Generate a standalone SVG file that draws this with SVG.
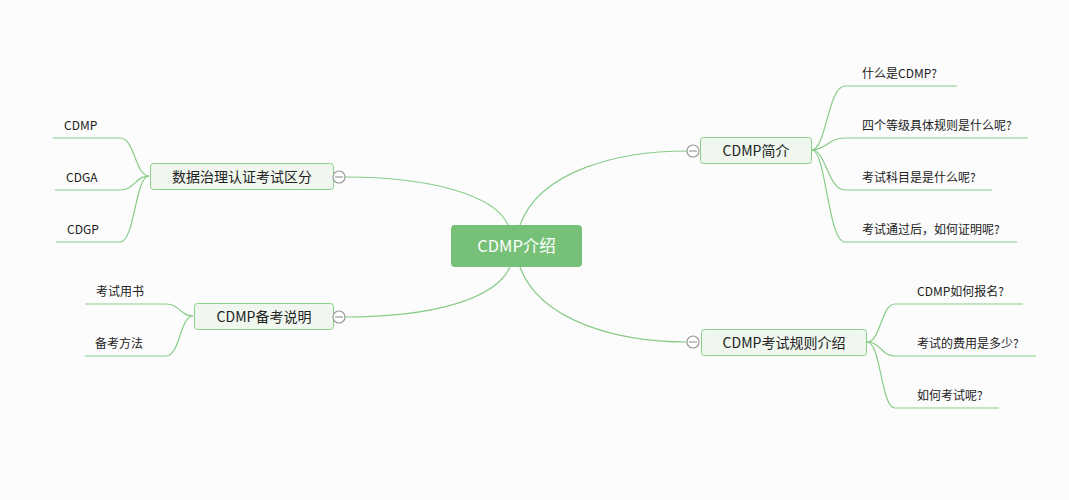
<svg xmlns="http://www.w3.org/2000/svg" width="1069" height="500" viewBox="0 0 1069 500">
<style>
.bg{fill:#fcfcfc}
.ln{fill:none;stroke:#88cc88;stroke-width:1.2}
.main{fill:#76c078}
.main-t{font-family:"Noto Sans CJK SC","Liberation Sans",sans-serif;font-size:16.5px;fill:#ffffff;text-anchor:middle}
.sub{fill:#f0f7ee;stroke:#8ccf8c;stroke-width:1}
.sub-t{font-family:"Noto Sans CJK SC","Liberation Sans",sans-serif;font-size:14px;fill:#222222;text-anchor:middle}
.leaf-t{font-family:"Noto Sans CJK SC","Liberation Sans",sans-serif;font-size:12px;fill:#222222}
.tog{fill:#ffffff;stroke:#9a9a9a;stroke-width:1.2}
.togm{stroke:#9a9a9a;stroke-width:1.2}
</style>
<rect class="bg" x="0" y="0" width="1069" height="500"/>
<g id="connectors">
<path class="ln" d="M508,225 C495,195 430,177 345,177"/>
<path class="ln" d="M520,225 C540,170 620,151 687,151"/>
<path class="ln" d="M510,267 C495,300 430,317 345,317"/>
<path class="ln" d="M520,267 C540,322 620,342 687,342"/>
<path class="ln" d="M812,150 C826,150 828,86 845,86 L957,86"/>
<path class="ln" d="M812,150 C826,150 828,138 845,138 L1028,138"/>
<path class="ln" d="M812,150 C826,150 828,190 845,190 L992,190"/>
<path class="ln" d="M812,150 C826,150 828,242 845,242 L1017,242"/>
<path class="ln" d="M149,176 C135,176 135,138 120,138 L53,138"/>
<path class="ln" d="M149,176 C135,176 135,190 120,190 L55,190"/>
<path class="ln" d="M149,176 C135,176 135,242 120,242 L56,242"/>
<path class="ln" d="M193,316 C180,316 180,304 166,304 L85,304"/>
<path class="ln" d="M193,316 C180,316 180,356 166,356 L85,356"/>
<path class="ln" d="M867,342 C881,342 881,304 895,304 L1023,304"/>
<path class="ln" d="M867,342 C881,342 881,356 895,356 L1036,356"/>
<path class="ln" d="M867,342 C881,342 881,408 895,408 L999,408"/>
</g>
<g id="root">
<rect class="main" x="451" y="225" width="131" height="42" rx="4"/>
<text class="main-t" x="516.5" y="252">CDMP介绍</text>
</g>
<g id="n-jianjie">
<rect class="sub" x="700.5" y="137.5" width="111" height="26" rx="3"/>
<text class="sub-t" x="756" y="155.5">CDMP简介</text>
<circle class="tog" cx="693" cy="151" r="6"/>
<line class="togm" x1="689" y1="151" x2="697" y2="151"/>
</g>
<g id="n-jianjie-1"><text class="leaf-t" x="862" y="78">什么是CDMP?</text></g>
<g id="n-jianjie-2"><text class="leaf-t" x="862" y="130">四个等级具体规则是什么呢?</text></g>
<g id="n-jianjie-3"><text class="leaf-t" x="862" y="182">考试科目是是什么呢?</text></g>
<g id="n-jianjie-4"><text class="leaf-t" x="862" y="234">考试通过后，如何证明呢?</text></g>
<g id="n-qufen">
<rect class="sub" x="150.5" y="163.5" width="183" height="26" rx="3"/>
<text class="sub-t" x="242" y="181.5">数据治理认证考试区分</text>
<circle class="tog" cx="339" cy="177" r="6"/>
<line class="togm" x1="335" y1="177" x2="343" y2="177"/>
</g>
<g id="n-qufen-1"><text class="leaf-t" x="64" y="130">CDMP</text></g>
<g id="n-qufen-2"><text class="leaf-t" x="66" y="182">CDGA</text></g>
<g id="n-qufen-3"><text class="leaf-t" x="67" y="234">CDGP</text></g>
<g id="n-beikao">
<rect class="sub" x="194.5" y="303.5" width="139" height="26" rx="3"/>
<text class="sub-t" x="264" y="321.5">CDMP备考说明</text>
<circle class="tog" cx="339" cy="317" r="6"/>
<line class="togm" x1="335" y1="317" x2="343" y2="317"/>
</g>
<g id="n-beikao-1"><text class="leaf-t" x="96" y="296">考试用书</text></g>
<g id="n-beikao-2"><text class="leaf-t" x="95" y="348">备考方法</text></g>
<g id="n-guize">
<rect class="sub" x="701.5" y="329.5" width="165" height="26" rx="3"/>
<text class="sub-t" x="784" y="347.5">CDMP考试规则介绍</text>
<circle class="tog" cx="693" cy="342" r="6"/>
<line class="togm" x1="689" y1="342" x2="697" y2="342"/>
</g>
<g id="n-guize-1"><text class="leaf-t" x="917" y="296">CDMP如何报名?</text></g>
<g id="n-guize-2"><text class="leaf-t" x="917" y="348">考试的费用是多少?</text></g>
<g id="n-guize-3"><text class="leaf-t" x="917" y="400">如何考试呢?</text></g>
</svg>
